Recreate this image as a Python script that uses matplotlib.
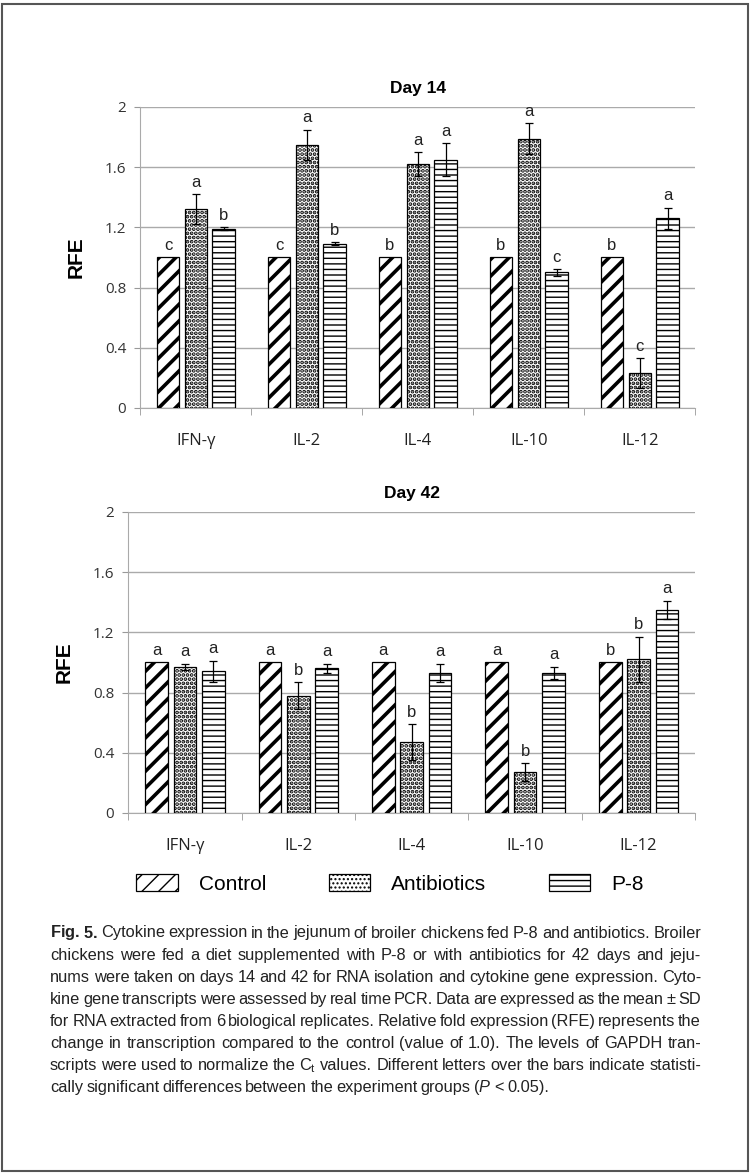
import numpy as np
import matplotlib
matplotlib.use("Agg")
import matplotlib.pyplot as plt
from matplotlib.patches import Patch, Rectangle

plt.rcParams["mathtext.fontset"] = "custom"
plt.rcParams["mathtext.rm"] = "Liberation Sans"
plt.rcParams["mathtext.it"] = "Liberation Sans:italic"
plt.rcParams["mathtext.bf"] = "Liberation Sans:bold"

# data
cytokines = ["IFN-γ", "IL-2", "IL-4", "IL-10", "IL-12"]
groups = ["Control", "Antibiotics", "P-8"]

d14_control = [1.0, 1.0, 1.0, 1.0, 1.0]
d14_antib = [1.32, 1.75, 1.62, 1.79, 0.23]
d14_p8 = [1.19, 1.09, 1.65, 0.90, 1.26]
d14_antib_sd = [0.10, 0.10, 0.08, 0.10, 0.10]
d14_p8_sd = [0.01, 0.01, 0.11, 0.02, 0.07]
d14_letters = [["c", "a", "b"], ["c", "a", "b"], ["b", "a", "a"], ["b", "a", "c"], ["b", "c", "a"]]

d42_control = [1.0, 1.0, 1.0, 1.0, 1.0]
d42_antib = [0.97, 0.78, 0.47, 0.27, 1.02]
d42_p8 = [0.94, 0.96, 0.93, 0.93, 1.35]
d42_antib_sd = [0.02, 0.09, 0.12, 0.06, 0.15]
d42_p8_sd = [0.07, 0.03, 0.06, 0.04, 0.06]
d42_letters = [["a", "a", "a"], ["a", "b", "a"], ["a", "b", "a"], ["a", "b", "a"], ["b", "b", "a"]]

yticks = [0, 0.4, 0.8, 1.2, 1.6, 2]
ytick_labels = ["0", "0.4", "0.8", "1.2", "1.6", "2"]

hatches = ["//", "....", "---"]
hatch_lw = [2.6, 1.9, 1.0]

fig = plt.figure(figsize=(7.5, 11.75), dpi=100)

# outer frame
fig.patches.append(Rectangle((0.003, 0.003), 0.994, 0.994, transform=fig.transFigure,
                             fill=False, edgecolor="#555555", linewidth=1.5))


def draw_panel(ax, title, ctrl, antib, p8, antib_sd, p8_sd, letters):
    x = np.arange(len(cytokines))
    width = 0.2
    step = 0.25
    series = [ctrl, antib, p8]
    errs = [None, antib_sd, p8_sd]
    for i, vals in enumerate(series):
        pos = x + (i - 1) * step
        bars = ax.bar(pos, vals, width, color="white", edgecolor="black",
                      linewidth=0.9, hatch=hatches[i], zorder=3)
        for b in bars:
            try:
                b.set_hatch_linewidth(hatch_lw[i])
            except AttributeError:
                pass
        if errs[i] is not None:
            ax.errorbar(pos, vals, yerr=errs[i], fmt="none", ecolor="black",
                        elinewidth=0.9, capsize=3, capthick=0.9, zorder=4)
        for j, v in enumerate(vals):
            top = v + (errs[i][j] if errs[i] is not None else 0)
            ax.text(pos[j], top + 0.03, letters[j][i], ha="center", va="bottom",
                    fontsize=12, family="Liberation Sans", color="#222222")
    ax.set_ylim(0, 2)
    ax.set_xlim(-0.5, len(cytokines) - 0.5)
    ax.set_yticks(yticks)
    ax.set_yticklabels(ytick_labels, fontsize=11, family="Open Sans", color="#333333")
    ax.set_xticks(x)
    ax.set_xticklabels(cytokines, fontsize=12, family="Open Sans", color="#222222")
    ax.tick_params(axis="x", length=0, pad=18)
    ax.set_xticks(np.arange(-0.5, len(cytokines)), minor=True)
    ax.tick_params(axis="x", which="minor", length=5, color="#999999", direction="out")
    ax.tick_params(axis="y", length=4, color="#999999", pad=6)
    ax.yaxis.grid(True, color="#aaaaaa", linewidth=1.0, zorder=0)
    ax.set_axisbelow(True)
    for s in ["top", "right"]:
        ax.spines[s].set_visible(False)
    for s in ["left", "bottom"]:
        ax.spines[s].set_color("#aaaaaa")
    ax.set_ylabel("RFE", fontsize=15, fontweight="bold", family="Liberation Sans", labelpad=14)
    ax.set_title(title, fontsize=12.5, fontweight="bold", family="Liberation Sans", pad=10)


ax1 = fig.add_axes([0.187, 0.6528, 0.740, 0.2562])
draw_panel(ax1, "Day 14", d14_control, d14_antib, d14_p8, d14_antib_sd, d14_p8_sd, d14_letters)

ax2 = fig.add_axes([0.171, 0.3081, 0.756, 0.2562])
draw_panel(ax2, "Day 42", d42_control, d42_antib, d42_p8, d42_antib_sd, d42_p8_sd, d42_letters)

handles = []
for i, g in enumerate(groups):
    p = Patch(facecolor="white", edgecolor="black", hatch=hatches[i], linewidth=0.9, label=g)
    try:
        p.set_hatch_linewidth(hatch_lw[i])
    except AttributeError:
        pass
    handles.append(p)
fig.legend(handles=handles, loc="center", bbox_to_anchor=(0.52, 1 - 884 / 1175), ncol=3,
           frameon=False, prop={"family": "Liberation Sans", "size": 15},
           handlelength=2.0, handleheight=0.9, columnspacing=3.0, handletextpad=1.0)

# caption, justified word by word
caption_lines = [
    r"$\bf{Fig.}$ $\bf{5.}$ Cytokine expression in the jejunum of broiler chickens fed P-8 and antibiotics. Broiler",
    "chickens were fed a diet supplemented with P-8 or with antibiotics for 42 days and jeju-",
    "nums were taken on days 14 and 42 for RNA isolation and cytokine gene expression. Cyto-",
    "kine gene transcripts were assessed by real time PCR. Data are expressed as the mean ± SD",
    "for RNA extracted from 6 biological replicates. Relative fold expression (RFE) represents the",
    "change in transcription compared to the control (value of 1.0). The levels of GAPDH tran-",
    r"scripts were used to normalize the C$_\mathregular{t}$ values. Different letters over the bars indicate statisti-",
    r"cally significant differences between the experiment groups ($\it{P}$ < 0.05).",
]
left_px, right_px = 50, 701
y0 = 933
renderer = fig.canvas.get_renderer()

# find a font size at which every line fits with a small minimum gap
base = 10.0
need = []
for line in caption_lines:
    words = line.split(" ")
    w = 0
    for wd in words:
        t = fig.text(0, 0, wd, fontsize=base, family="Liberation Sans")
        w += t.get_window_extent(renderer).width
        t.remove()
    need.append((w, len(words) - 1))
cap_size = min(12.0, min(base * (right_px - left_px - 2.5 * n) / w for w, n in need))

for k, line in enumerate(caption_lines):
    ypos = 1 - (y0 + k * 22.1) / 1175
    words = line.split(" ")
    texts = []
    widths = []
    for w in words:
        t = fig.text(0, ypos, w, ha="left", va="center", fontsize=cap_size,
                     family="Liberation Sans", color="#222222")
        texts.append(t)
        widths.append(t.get_window_extent(renderer).width)
    if k < len(caption_lines) - 1:
        gap = (right_px - left_px - sum(widths)) / (len(words) - 1)
    else:
        gap = 3.0
    xpos = left_px
    for t, wd in zip(texts, widths):
        t.set_x(xpos / 750)
        xpos += wd + gap

fig.savefig("out.png", dpi=100)
